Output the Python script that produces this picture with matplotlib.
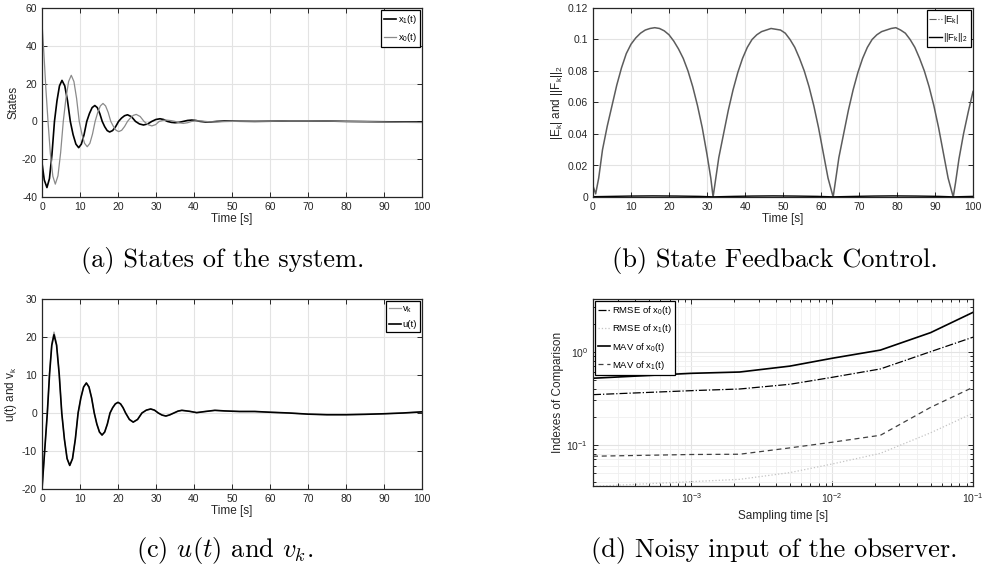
import matplotlib
matplotlib.use("Agg")
import matplotlib.pyplot as plt
from matplotlib.lines import Line2D
from matplotlib.ticker import MultipleLocator, LogLocator, NullFormatter

plt.rcParams["font.family"] = ["Liberation Sans", "DejaVu Sans"]
plt.rcParams["mathtext.fontset"] = "custom"
plt.rcParams["mathtext.rm"] = "Liberation Sans"
plt.rcParams["mathtext.it"] = "Liberation Sans"
plt.rcParams["axes.unicode_minus"] = False

DPI = 100
INK = "#262626"
GRID = "#e3e3e3"

# (a) states of the system
T_X1 = [0, 0.6, 1.3, 1.96, 2.62, 3.28, 3.94, 4.6, 5.26, 5.99, 6.72, 7.45, 8.18, 8.92, 9.65,
        10.36, 11.07, 11.78, 12.49, 13.19, 13.9, 14.55, 15.2, 15.85, 16.5, 17.15, 17.8,
        18.58, 19.37, 20.15, 20.93, 21.72, 22.5, 23.55, 24.6, 25.65, 26.7, 27.8, 28.9,
        29.95, 31.05, 32.0, 33.0, 34.0, 35.0, 36.1, 37.2, 38.3, 39.4, 40.5, 41.6, 43, 44.5,
        46, 48, 52, 56, 60, 65, 70, 75, 80, 85, 90, 95, 100]
X1 = [-22, -31, -35, -30.3, -17.5, 0, 10.9, 18.8, 21.7, 18.8, 10.9, 0, -7.0, -12.0, -13.9,
      -12.0, -7.0, 0, 4.2, 7.3, 8.4, 7.3, 4.2, 0, -2.8, -4.85, -5.6,
      -4.85, -2.8, 0, 1.75, 3.0, 3.5, 2.5, 0, -1.35, -1.9, -1.35, 0,
      1.0, 1.4, 1.0, 0, -0.5, -0.7, -0.5, 0, 0.5, 0.7, 0.5, 0, -0.3, -0.3,
      0, 0.2, 0.1, 0, 0.1, 0.3, 0.3, 0.2, 0, -0.1, -0.2, -0.3, -0.3]
T_X0 = [0, 0.5, 1.0, 1.58, 2.2, 2.85, 3.5, 4.2, 4.9, 5.6, 6.3, 7.0, 7.7, 8.4, 9.1, 9.8,
        10.5, 11.2, 11.9, 12.6, 13.29, 13.98, 14.67, 15.36, 16.05, 16.73, 17.42, 18.1,
        18.8, 19.5, 20.2, 20.97, 21.73, 22.5, 23.27, 24.03, 24.8, 25.83, 26.85, 27.88,
        28.9, 29.9, 30.85, 31.8, 32.8, 34, 35, 36.1, 37.2, 38.3, 39.4, 40.5, 42, 44, 46,
        48, 52, 60, 65, 70, 75, 80, 85, 90, 95, 100]
X0 = [52, 36, 18, 0, -17, -29, -33.2, -28.8, -16.6, 0, 12.2, 21.1, 24.4, 21.1, 12.2, 0,
      -6.7, -11.6, -13.4, -11.6, -6.7, 0, 4.75, 8.2, 9.5, 8.2, 4.75, 0,
      -2.7, -4.7, -5.4, -4.7, -2.7, 0, 1.85, 3.2, 3.7, 2.6, 0, -1.7,
      -2.4, -1.7, 0, 0.5, 0.7, 0.4, 0, -0.75, -1.05, -0.7, 0, 0.3, 0.2, -0.2, -0.3,
      -0.1, 0.1, 0.1, 0.3, 0.3, 0.2, 0, -0.1, -0.3, -0.5, -0.6]

# (b) state feedback control
T_E = [0, 0.7, 1.5, 2.5, 3.75, 5, 6.25, 7.5, 8.75, 10, 11.25, 12.5, 13.75, 15, 16.25, 17.5,
       18.75, 20, 21.25, 22.5, 23.75, 25, 26.25, 27.5, 28.75, 30, 31.0, 31.6,
       32.2, 33.1, 34.35, 35.6, 36.85, 38.1, 39.35, 40.6, 41.85, 43.1, 44.35, 45.6, 46.85,
       48.1, 49.35, 50.6, 51.85, 53.1, 54.35, 55.6, 56.85, 58.1, 59.35, 60.6, 61.85, 63.2,
       63.8, 64.7, 65.95, 67.2, 68.45, 69.7, 70.95, 72.2, 73.45, 74.7, 75.95, 77.2, 78.45,
       79.7, 80.95, 82.2, 83.45, 84.7, 85.95, 87.2, 88.45, 89.7, 90.95, 92.2, 93.45, 94.8,
       95.4, 96.3, 97.5, 98.75, 100]
E_K = [0.007, 0.002, 0.012, 0.030, 0.045, 0.058, 0.071, 0.082, 0.091, 0.097, 0.101, 0.104,
       0.106, 0.107, 0.1075, 0.107, 0.1055, 0.103, 0.099, 0.094, 0.088, 0.080, 0.070, 0.058,
       0.044, 0.027, 0.012, 0.0,
       0.010, 0.025, 0.040, 0.055, 0.068, 0.079, 0.088, 0.095, 0.100, 0.103, 0.105, 0.106,
       0.107, 0.1065, 0.106, 0.104, 0.100, 0.095, 0.088, 0.080, 0.070, 0.058, 0.044, 0.028,
       0.012, 0.0,
       0.010, 0.025, 0.040, 0.055, 0.068, 0.079, 0.088, 0.095, 0.100, 0.103, 0.105, 0.106,
       0.107, 0.1075, 0.106, 0.104, 0.100, 0.095, 0.088, 0.080, 0.070, 0.058, 0.044, 0.028,
       0.012, 0.0,
       0.009, 0.024, 0.040, 0.054, 0.067]
T_F = [0, 5, 10, 15.8, 22, 28, 31.6, 37, 42, 47.4, 53, 59, 63.2, 69, 74, 79, 85, 91, 94.8, 100]
F_K = [0.0002, 0.0004, 0.0006, 0.0007, 0.0006, 0.0004, 0.0001, 0.0004, 0.0006, 0.0007,
       0.0006, 0.0004, 0.0001, 0.0004, 0.0006, 0.0007, 0.0006, 0.0004, 0.0001, 0.0004]

# (c) u(t) and v_k
T_U = [0, 0.7, 1.4, 1.99, 2.57, 3.16, 3.84, 4.52, 5.2, 5.9, 6.6, 7.3, 8.03, 8.77, 9.5,
       10.22, 10.95, 11.67, 12.36, 13.06, 13.75, 14.43, 15.12, 15.8, 16.5, 17.2, 17.9, 18.6,
       19.3, 20, 20.67, 21.33, 22, 23, 24, 25.15, 26.3, 27.45, 28.6, 29.6, 30.6, 31.6, 32.6,
       33.6, 34.7, 35.8, 36.8, 38.8, 40.7, 43, 45.5, 48, 52, 56, 60, 65, 70, 75, 80, 85, 90,
       95, 100]
U = [-20, -10, 0, 10.3, 17.8, 20.6, 17.8, 10.3, 0, -6.9, -12.0, -13.8, -12.0, -6.9, 0,
     3.95, 6.85, 7.9, 6.85, 3.95, 0, -2.9, -5.0, -5.8, -5.0, -2.9, 0, 1.4,
     2.4, 2.8, 2.4, 1.4, 0, -1.7, -2.4, -1.7, 0, 0.75, 1.06, 0.75, 0, -0.55, -0.8,
     -0.5, 0, 0.5, 0.7, 0.45, 0.1, 0.4, 0.7, 0.55, 0.4, 0.4, 0.2, 0, -0.3, -0.45, -0.45,
     -0.35, -0.2, 0, 0.3]
V_K = [-20, -10, 0, 10.5, 18.2, 21.3, 18.2, 10.5, 0, -6.9, -12.0, -13.8, -12.0, -6.9, 0,
       3.95, 6.85, 7.9, 6.85, 3.95, 0, -2.9, -5.0, -5.8, -5.0, -2.9, 0, 1.4,
       2.4, 2.8, 2.4, 1.4, 0, -1.7, -2.4, -1.7, 0, 0.75, 1.06, 0.75, 0, -0.55, -0.8,
       -0.5, 0, 0.5, 0.7, 0.45, 0.1, 0.4, 0.7, 0.55, 0.4, 0.4, 0.2, 0, -0.3, -0.45, -0.45,
       -0.35, -0.2, 0, 0.3]

# (d) noisy input of the observer
TS = [2e-4, 1e-3, 2.2e-3, 5e-3, 1e-2, 2.2e-2, 5e-2, 1e-1]
RMSE_X0 = [0.346, 0.382, 0.398, 0.447, 0.531, 0.653, 1.0, 1.43]
RMSE_X1 = [0.036, 0.0404, 0.0428, 0.0505, 0.0625, 0.0813, 0.135, 0.219]
MAV_X0 = [0.519, 0.586, 0.605, 0.70, 0.85, 1.04, 1.6, 2.64]
MAV_X1 = [0.0757, 0.079, 0.0795, 0.093, 0.107, 0.127, 0.253, 0.415]

CAPTIONS = ["(a) States of the system.", "(b) State Feedback Control.",
            r"(c) $u(t)$ and $v_k$.", "(d) Noisy input of the observer."]


def matlab_axes(ax, log=False):
    for s in ax.spines.values():
        s.set_color(INK); s.set_linewidth(0.9)
    ax.tick_params(which="both", direction="in", top=True, right=True, color=INK,
                   labelcolor=INK, labelsize=7.5, width=0.7)
    ax.tick_params(which="major", length=3.5)
    ax.tick_params(which="minor", length=2)
    ax.set_axisbelow(True)
    ax.grid(True, which="major", color=GRID, lw=0.8)
    if log:
        ax.grid(True, which="minor", color="#efefef", lw=0.6)


def legend(ax, loc, handles=None):
    kw = dict(loc=loc, fontsize=6.8, handlelength=1.3, handletextpad=0.15,
              borderpad=0.3, labelspacing=0.55, borderaxespad=0.25,
              fancybox=False, framealpha=1)
    lg = ax.legend(handles=handles, **kw) if handles else ax.legend(**kw)
    lg.get_frame().set_edgecolor("black"); lg.get_frame().set_linewidth(0.9)


def time_axis(ax):
    ax.set_xlim(0, 100)
    ax.xaxis.set_major_locator(MultipleLocator(10))
    ax.set_xlabel("Time [s]", fontsize=8.5, color=INK, labelpad=1)


def main():
    fig = plt.figure(figsize=(9.83, 5.74), dpi=DPI)
    W, H = 983, 574
    boxes = [(42, 8, 422, 197), (593, 8, 973, 197), (42, 299, 422, 489), (593, 299, 973, 486)]
    axes = [fig.add_axes([l / W, 1 - b / H, (r - l) / W, (b - t) / H]) for l, t, r, b in boxes]
    ax_a, ax_b, ax_c, ax_d = axes

    # (a)
    matlab_axes(ax_a)
    ax_a.plot(T_X1, X1, color="black", lw=1.2, label="x$_1$(t)")
    ax_a.plot(T_X0, X0, color="#8a8a8a", lw=0.9, label="x$_0$(t)")
    time_axis(ax_a)
    ax_a.set_ylim(-40, 60)
    ax_a.yaxis.set_major_locator(MultipleLocator(20))
    ax_a.set_ylabel("States", fontsize=8.5, color=INK, labelpad=2)
    legend(ax_a, "upper right")

    # (b) the noisy |E_k| trace reads as a solid grey band; legend keeps the dash-dot key
    matlab_axes(ax_b)
    ax_b.plot(T_E, E_K, color="#5c5c5c", lw=1.1)
    ax_b.plot(T_F, F_K, color="black", lw=1.0)
    time_axis(ax_b)
    ax_b.set_ylim(0, 0.12)
    ax_b.yaxis.set_major_locator(MultipleLocator(0.02))
    ax_b.yaxis.set_major_formatter(plt.FuncFormatter(lambda v, p: f"{v:g}"))
    ax_b.set_ylabel("|E$_k$| and ||F$_k$||$_2$", fontsize=8.5, color=INK, labelpad=2)
    keys = [Line2D([], [], color="#5c5c5c", lw=0.8, ls="-.", label="|E$_k$|"),
            Line2D([], [], color="black", lw=1.0, label="||F$_k$||$_2$")]
    legend(ax_b, "upper right", keys)

    # (c)
    matlab_axes(ax_c)
    ax_c.plot(T_U, V_K, color="#9a9a9a", lw=0.9, label="v$_k$")
    ax_c.plot(T_U, U, color="black", lw=1.2, label="u(t)")
    time_axis(ax_c)
    ax_c.set_ylim(-20, 30)
    ax_c.yaxis.set_major_locator(MultipleLocator(10))
    ax_c.set_ylabel("u(t) and v$_k$", fontsize=8.5, color=INK, labelpad=2)
    legend(ax_c, "upper right")

    # (d)
    ax_d.set_xscale("log"); ax_d.set_yscale("log")
    matlab_axes(ax_d, log=True)
    ax_d.plot(TS, RMSE_X0, color="black", lw=0.9, ls="-.", label="RMSE of x$_0$(t)")
    ax_d.plot(TS, RMSE_X1, color="#c4c4c4", lw=0.9, ls=":", label="RMSE of x$_1$(t)")
    ax_d.plot(TS, MAV_X0, color="black", lw=1.2, label="MAV of x$_0$(t)")
    ax_d.plot(TS, MAV_X1, color="#404040", lw=0.9, ls=(0, (4, 3)), label="MAV of x$_1$(t)")
    ax_d.set_xlim(2e-4, 0.1)
    ax_d.set_ylim(0.0363, 3.67)
    ax_d.xaxis.set_minor_locator(LogLocator(subs=range(2, 10)))
    ax_d.yaxis.set_minor_locator(LogLocator(subs=range(2, 10)))
    ax_d.xaxis.set_minor_formatter(NullFormatter())
    ax_d.yaxis.set_minor_formatter(NullFormatter())
    ax_d.set_xlabel("Sampling time [s]", fontsize=8.5, color=INK, labelpad=4)
    ax_d.set_ylabel("Indexes of Comparison", fontsize=8.5, color=INK, labelpad=2)
    legend(ax_d, "upper left")

    centers = [(223, 260), (775, 260), (225, 550), (774, 550)]
    for (cx, cy), txt in zip(centers, CAPTIONS):
        fig.text(cx / W, 1 - cy / H, txt, ha="center", va="center", fontsize=19,
                 family="cmr10", math_fontfamily="cm")

    fig.savefig("out.png", dpi=DPI)
    plt.close(fig)


if __name__ == "__main__":
    main()
